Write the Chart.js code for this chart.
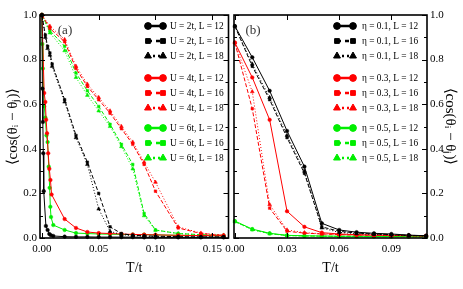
<!DOCTYPE html>
<html>
<head>
<meta charset="utf-8">
<script src="https://cdn.jsdelivr.net/npm/chart.js@4.4.1/dist/chart.umd.min.js"></script>
<style>
  body { margin: 0; background: #fff; }
  #wrap { position: relative; width: 463px; height: 289px; overflow: hidden; }
  #wrap canvas { position: absolute; top: 0; }
  #panel_a { left: 0; }
  #panel_b { left: 200px; }
</style>
</head>
<body>
<div id="wrap">
  <canvas id="panel_a" width="233" height="289"></canvas>
  <canvas id="panel_b" width="263" height="289"></canvas>
</div>
<script>
// ---- panel (a): U = 2t, 4t, 6t ----
const tU2L12 = [0, 0.0004, 0.0008, 0.0012, 0.0016, 0.0035, 0.005, 0.0065, 0.008, 0.01, 0.02, 0.03, 0.04, 0.05, 0.06, 0.07, 0.08, 0.09, 0.1, 0.12, 0.14, 0.16]
const cU2L12 = [1.0, 0.67, 0.52, 0.38, 0.21, 0.054, 0.036, 0.018, 0.012, 0.009, 0.006, 0.005, 0.005, 0.004, 0.004, 0.004, 0.004, 0.003, 0.003, 0.003, 0.003, 0.003]
const tU2L16 = [0, 0.003, 0.005, 0.007, 0.009, 0.02, 0.03, 0.04, 0.05, 0.06, 0.07, 0.08, 0.09, 0.1, 0.12, 0.14, 0.16]
const cU2L16 = [1.0, 0.91, 0.86, 0.83, 0.78, 0.62, 0.46, 0.34, 0.20, 0.05, 0.02, 0.012, 0.01, 0.008, 0.006, 0.005, 0.005]
const cU2L18 = [1.0, 0.90, 0.85, 0.82, 0.77, 0.61, 0.45, 0.33, 0.13, 0.03, 0.015, 0.01, 0.008, 0.006, 0.005, 0.004, 0.004]

const tU4L12 = [0, 0.002, 0.003, 0.0037, 0.0045, 0.0055, 0.0065, 0.0075, 0.0085, 0.02, 0.03, 0.04, 0.05, 0.06, 0.07, 0.08, 0.09, 0.1, 0.12, 0.14, 0.16]
const cU4L12 = [1.0, 0.65, 0.61, 0.53, 0.47, 0.38, 0.31, 0.26, 0.195, 0.085, 0.045, 0.027, 0.022, 0.02, 0.018, 0.016, 0.015, 0.014, 0.012, 0.011, 0.01]
const tLongA = [0, 0.007, 0.02, 0.03, 0.04, 0.05, 0.06, 0.07, 0.08, 0.09, 0.1, 0.12, 0.14, 0.16]
const cU4L16 = [1.0, 0.94, 0.88, 0.76, 0.68, 0.62, 0.56, 0.49, 0.42, 0.33, 0.21, 0.045, 0.02, 0.012]
const cU4L18 = [1.0, 0.95, 0.89, 0.77, 0.69, 0.63, 0.57, 0.50, 0.43, 0.34, 0.25, 0.05, 0.022, 0.013]

const tU6L12 = [0, 0.0003, 0.0008, 0.002, 0.003, 0.004, 0.005, 0.006, 0.0068, 0.0074, 0.008, 0.01, 0.02, 0.03, 0.04, 0.05, 0.06, 0.07, 0.08, 0.09, 0.1, 0.12, 0.14, 0.16]
const cU6L12 = [1.0, 0.87, 0.76, 0.59, 0.54, 0.46, 0.43, 0.32, 0.225, 0.14, 0.094, 0.058, 0.036, 0.022, 0.02, 0.018, 0.017, 0.016, 0.015, 0.015, 0.014, 0.012, 0.011, 0.01]
const cU6L16 = [1.0, 0.93, 0.86, 0.74, 0.66, 0.59, 0.51, 0.42, 0.33, 0.11, 0.036, 0.02, 0.015, 0.012]
const cU6L18 = [1.0, 0.92, 0.84, 0.72, 0.64, 0.57, 0.50, 0.41, 0.31, 0.10, 0.035, 0.02, 0.014, 0.011]

// ---- panel (b): eta = 0.1, 0.3, 0.5 ----
const tEta = [0, 0.01, 0.02, 0.03, 0.04, 0.05, 0.06, 0.07, 0.08, 0.09, 0.1, 0.11]
const cEta1L12 = [0.95, 0.81, 0.66, 0.48, 0.32, 0.066, 0.036, 0.026, 0.021, 0.018, 0.013, 0.01]
const cEta1L16 = [0.95, 0.77, 0.62, 0.45, 0.29, 0.05, 0.03, 0.022, 0.018, 0.015, 0.012, 0.01]
const cEta1L18 = [0.95, 0.78, 0.63, 0.46, 0.30, 0.045, 0.025, 0.02, 0.016, 0.014, 0.011, 0.009]
const cEta3L12 = [0.876, 0.72, 0.53, 0.12, 0.05, 0.024, 0.018, 0.015, 0.013, 0.012, 0.011, 0.01]
const cEta3L16 = [0.876, 0.58, 0.134, 0.03, 0.022, 0.018, 0.015, 0.013, 0.012, 0.011, 0.01, 0.009]
const cEta3L18 = [0.876, 0.656, 0.15, 0.036, 0.024, 0.019, 0.016, 0.014, 0.012, 0.011, 0.01, 0.009]
const cEta5L12 = [0.076, 0.04, 0.021, 0.012, 0.01, 0.009, 0.008, 0.008, 0.007, 0.007, 0.006, 0.006]
const cEta5L16 = [0.074, 0.038, 0.02, 0.011, 0.009, 0.008, 0.007, 0.007, 0.006, 0.006, 0.006, 0.005]
const cEta5L18 = [0.073, 0.037, 0.019, 0.011, 0.009, 0.008, 0.007, 0.007, 0.006, 0.006, 0.005, 0.005]

// ticks
const xTicksA = [0, 0.05, 0.10, 0.15]
const xTicksB = [0, 0.03, 0.06, 0.09]
const yTicks = [0, 0.2, 0.4, 0.6, 0.8, 1.0]
const yMinorTicks = [0.1, 0.3, 0.5, 0.7, 0.9]

const serif = "'Liberation Serif', 'Times New Roman', serif"
const yTitle = '⟨cos(θᵢ − θⱼ)⟩'

const BLACK = '#000000', RED = '#ff0000', GREEN = '#00ee00'
const lineStyle = {
  12: { dash: [], point: 'circle', r: 1.8, legendDash: [] },
  16: { dash: [4, 2], point: 'rect', r: 1.8, legendDash: [4, 4] },
  18: { dash: [1, 2], point: 'triangle', r: 2.2, legendDash: [2, 3] },
}

function series(t, v, label, color, L) {
  const s = lineStyle[L]
  return {
    label,
    data: t.map((x, i) => ({ x, y: v[i] })),
    showLine: true,
    borderColor: color,
    backgroundColor: color,
    borderWidth: 1,
    borderDash: s.dash,
    pointStyle: s.point,
    pointRadius: s.r,
    pointBorderWidth: 0.5,
    clip: 4,
    L,
  }
}

// inward tick marks + thick frame
const frame = {
  id: 'frame',
  afterDatasetsDraw(chart) {
    const { ctx, chartArea: a, scales } = chart
    ctx.save()
    ctx.strokeStyle = '#000'
    ctx.lineWidth = 1
    ctx.beginPath()
    const yt = yTicks.map(v => [v, 5]).concat(yMinorTicks.map(v => [v, 3]))
    yt.forEach(([v, len]) => {
      const y = Math.round(scales.y.getPixelForValue(v)) + 0.5
      ctx.moveTo(a.left, y); ctx.lineTo(a.left + len, y)
      ctx.moveTo(a.right, y); ctx.lineTo(a.right - len, y)
    })
    scales.x.ticks.forEach(t => {
      const x = Math.round(scales.x.getPixelForValue(t.value)) + 0.5
      ctx.moveTo(x, a.bottom); ctx.lineTo(x, a.bottom - 5)
      ctx.moveTo(x, a.top); ctx.lineTo(x, a.top + 5)
    })
    ctx.stroke()
    ctx.lineWidth = 1.6
    ctx.strokeRect(a.left, a.top, a.right - a.left, a.bottom - a.top)
    ctx.restore()
  }
}

// legend with a marker at each end of the sample line
const sampleLegend = {
  id: 'sampleLegend',
  afterDraw(chart, args, opts) {
    const ctx = chart.ctx
    ctx.save()
    chart.data.datasets.forEach((ds, i) => {
      const y = opts.rows[i]
      const s = lineStyle[ds.L]
      ctx.strokeStyle = ds.borderColor
      ctx.fillStyle = ds.borderColor
      ctx.lineWidth = 2.5
      ctx.setLineDash(s.legendDash)
      ctx.beginPath(); ctx.moveTo(opts.x1, y); ctx.lineTo(opts.x2, y); ctx.stroke()
      ctx.setLineDash([])
      ctx.lineWidth = 1
      const ps = { pointStyle: s.point, radius: s.point === 'triangle' ? 4 : 3.4, rotation: 0, borderWidth: 1 }
      Chart.helpers.drawPoint(ctx, ps, opts.x1, y)
      Chart.helpers.drawPoint(ctx, ps, opts.x2, y)
      ctx.fillStyle = '#000'
      ctx.font = '11px ' + serif
      ctx.textBaseline = 'middle'
      ctx.save()
      ctx.translate(opts.tx, y + 0.5)
      ctx.scale(0.85, 1)
      ctx.fillText(ds.label, 0, 0)
      ctx.restore()
    })
    ctx.fillStyle = '#333'
    ctx.font = '13px ' + serif
    ctx.textAlign = 'center'
    ctx.textBaseline = 'middle'
    ctx.fillText(opts.tag, opts.tagX, 31)
    ctx.restore()
  }
}

const legendRows = [26, 41, 56, 78, 93, 108, 128, 143, 158]

function axes(xMin, xMax, xTicks, yPos, yWidth) {
  return {
    x: {
      type: 'linear', min: xMin, max: xMax,
      afterBuildTicks: s => { s.ticks = xTicks.map(v => ({ value: v })) },
      afterFit: s => { s.height = 43; s.paddingLeft = 0; s.paddingRight = 0 },
      grid: { display: false, drawTicks: false },
      border: { display: false },
      ticks: { font: { family: serif, size: 11 }, color: '#000', padding: 5, maxRotation: 0, autoSkip: false, callback: v => v.toFixed(2) },
      title: { display: true, text: 'T/t', font: { family: serif, size: 14 }, color: '#000', padding: { top: 0, bottom: 4 } },
    },
    y: {
      type: 'linear', position: yPos, min: 0, max: 1,
      afterBuildTicks: s => { s.ticks = yTicks.map(v => ({ value: v })) },
      afterFit: s => { s.width = yWidth; s.paddingTop = 0; s.paddingBottom = 0 },
      grid: { display: false, drawTicks: false },
      border: { display: false },
      ticks: { font: { family: serif, size: 11 }, color: '#000', padding: 3, autoSkip: false, callback: v => v.toFixed(1) },
      title: { display: true, text: yTitle, font: { family: serif, size: 15 }, color: '#000', padding: 4 },
    },
  }
}

const common = {
  responsive: false,
  animation: false,
  events: [],
}

new Chart(document.getElementById('panel_a'), {
  type: 'scatter',
  data: {
    datasets: [
      series(tU2L12, cU2L12, 'U = 2t, L = 12', BLACK, 12),
      series(tU2L16, cU2L16, 'U = 2t, L = 16', BLACK, 16),
      series(tU2L16, cU2L18, 'U = 2t, L = 18', BLACK, 18),
      series(tU4L12, cU4L12, 'U = 4t, L = 12', RED, 12),
      series(tLongA, cU4L16, 'U = 4t, L = 16', RED, 16),
      series(tLongA, cU4L18, 'U = 4t, L = 18', RED, 18),
      series(tU6L12, cU6L12, 'U = 6t, L = 12', GREEN, 12),
      series(tLongA, cU6L16, 'U = 6t, L = 16', GREEN, 16),
      series(tLongA, cU6L18, 'U = 6t, L = 18', GREEN, 18),
    ]
  },
  options: {
    ...common,
    layout: { padding: { left: 0, right: 2, top: 15, bottom: 8 } },
    scales: axes(-0.0017, 0.1643, xTicksA, 'left', 40),
    plugins: {
      legend: { display: false },
      tooltip: { enabled: false },
      sampleLegend: { rows: legendRows, x1: 148, x2: 163, tx: 170, tag: '(a)', tagX: 65 },
    },
  },
  plugins: [frame, sampleLegend],
})

new Chart(document.getElementById('panel_b'), {
  type: 'scatter',
  data: {
    datasets: [
      series(tEta, cEta1L12, 'η = 0.1, L = 12', BLACK, 12),
      series(tEta, cEta1L16, 'η = 0.1, L = 16', BLACK, 16),
      series(tEta, cEta1L18, 'η = 0.1, L = 18', BLACK, 18),
      series(tEta, cEta3L12, 'η = 0.3, L = 12', RED, 12),
      series(tEta, cEta3L16, 'η = 0.3, L = 16', RED, 16),
      series(tEta, cEta3L18, 'η = 0.3, L = 18', RED, 18),
      series(tEta, cEta5L12, 'η = 0.5, L = 12', GREEN, 12),
      series(tEta, cEta5L16, 'η = 0.5, L = 16', GREEN, 16),
      series(tEta, cEta5L18, 'η = 0.5, L = 18', GREEN, 18),
    ]
  },
  options: {
    ...common,
    layout: { padding: { left: 34, right: 0, top: 15, bottom: 8 } },
    scales: axes(-0.0005, 0.1105, xTicksB, 'right', 36),
    plugins: {
      legend: { display: false },
      tooltip: { enabled: false },
      sampleLegend: { rows: legendRows, x1: 137, x2: 153, tx: 162, tag: '(b)', tagX: 53 },
    },
  },
  plugins: [frame, sampleLegend],
})
</script>
</body>
</html>
